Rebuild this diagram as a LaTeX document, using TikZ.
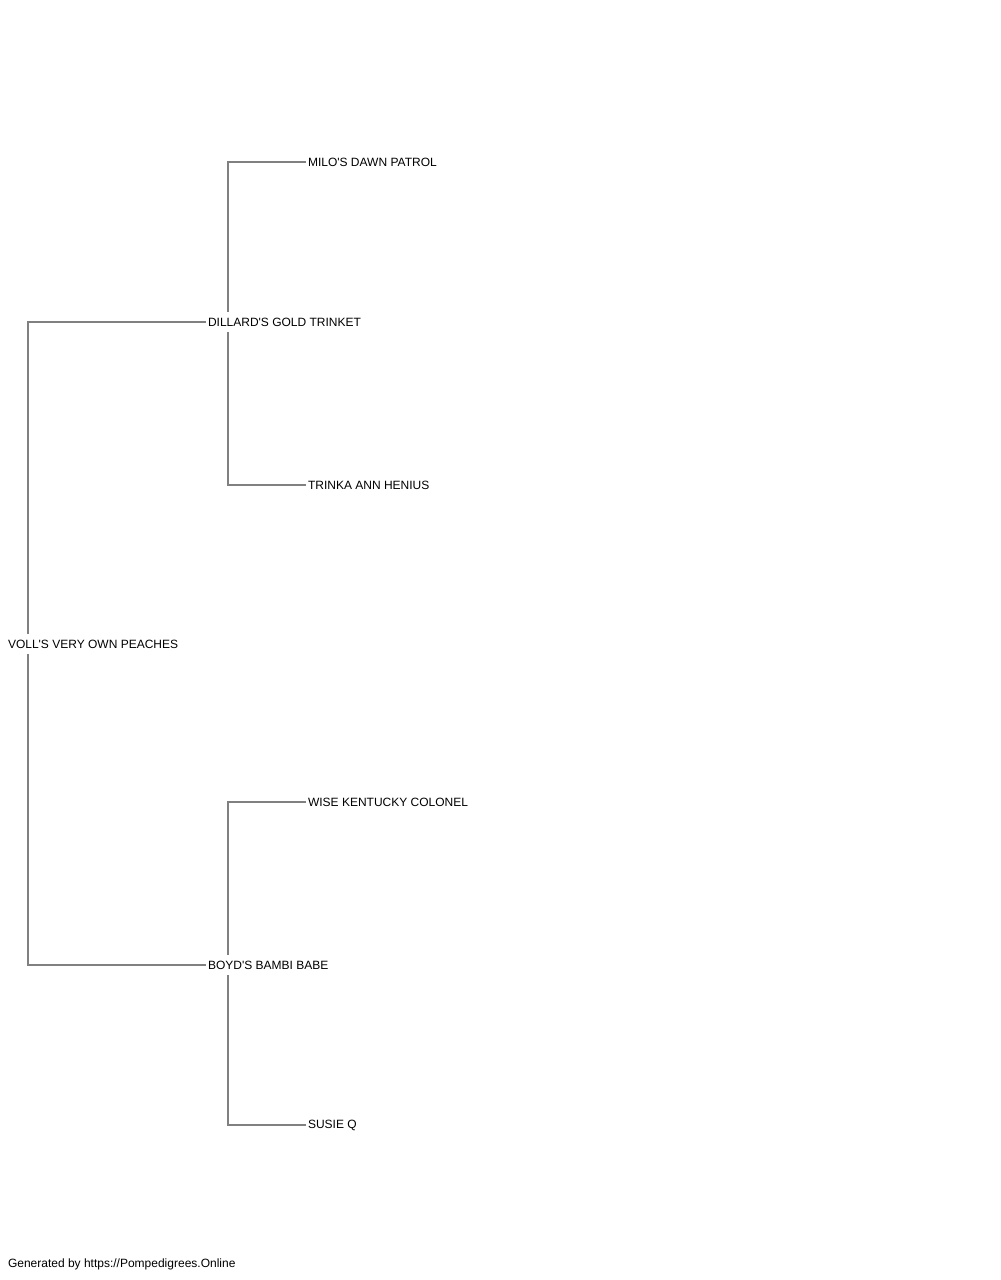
\documentclass[tikz,border=0pt]{standalone}
\usepackage{fontspec}
\newfontfamily\pedfont{Liberation Sans}

\begin{document}
\begin{tikzpicture}[x=0.02cm, y=-0.02cm,
  every node/.style={anchor=west, inner xsep=1.14pt, inner ysep=0pt, minimum height=11.4pt, outer sep=0pt, font=\pedfont\fontsize{6.83}{8}\selectfont},
  link/.style={draw=gray, line width=0.85pt}]
\useasboundingbox (0,0) rectangle (1000,1280);

% generation 1
\node (peaches) at (6,644) {VOLL'S VERY OWN PEACHES};
\coordinate (peachesbar) at (28,644);

% generation 2
\node (trinket) at (206,322) {DILLARD'S GOLD TRINKET};
\coordinate (trinketbar) at (228,322);
\node (bambi) at (206,965) {BOYD'S BAMBI BABE};
\coordinate (bambibar) at (228,965);

% generation 3
\node (milo) at (306,162) {MILO'S DAWN PATROL};
\node (henius) at (306,485) {TRINKA ANN HENIUS};
\node (colonel) at (306,802) {WISE KENTUCKY COLONEL};
\node (susie) at (306,1125) {SUSIE Q};

\node (footer) at (6,1264) {Generated by https://Pompedigrees.Online};

\draw[link] (trinket.west) -| (peachesbar |- peaches.north);
\draw[link] (bambi.west) -| (peachesbar |- peaches.south);
\draw[link] (milo.west) -| (trinketbar |- trinket.north);
\draw[link] (henius.west) -| (trinketbar |- trinket.south);
\draw[link] (colonel.west) -| (bambibar |- bambi.north);
\draw[link] (susie.west) -| (bambibar |- bambi.south);
\end{tikzpicture}
\end{document}
